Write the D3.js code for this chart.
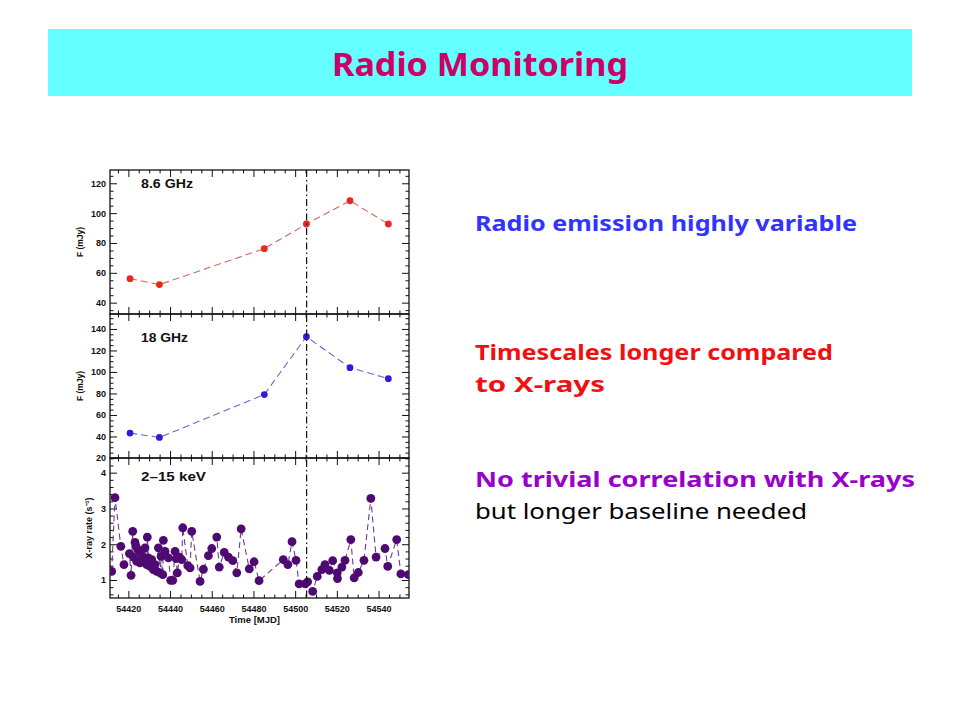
<!DOCTYPE html>
<html><head><meta charset="utf-8">
<script src="https://cdn.jsdelivr.net/npm/d3@7"></script>
<style>body{margin:0;background:#fff} svg{display:block}</style>
</head><body>
<svg id="c" width="960" height="720"></svg>
<script>
// ---- data ----
const radioDays = [54420.8, 54434.9, 54485.2, 54505.4, 54526.3, 54544.7];
const flux86    = [56.1, 52.1, 76.2, 92.7, 108.3, 92.7];
const flux18    = [43.2, 39.1, 79.0, 132.8, 104.0, 93.8];

const xrayDays = [54412.0,54413.6,54416.4,54417.9,54420.5,54421.3,54422.1,54422.4,54423.2,54423.7,
  54424.0,54424.8,54425.6,54426.4,54427.2,54428.0,54428.8,54429.1,54429.6,54430.4,
  54431.2,54432.0,54432.8,54433.6,54434.4,54435.2,54435.7,54436.5,54436.8,54437.6,
  54439.2,54440.3,54441.3,54442.4,54442.9,54443.5,54444.5,54445.6,54446.1,54448.5,
  54449.6,54450.4,54454.4,54456.0,54458.4,54460.0,54462.4,54463.6,54466.0,54468.0,
  54470.1,54472.0,54474.1,54478.0,54480.3,54482.7,54494.3,54496.5,54498.5,54500.4,
  54501.9,54504.8,54506.0,54508.4,54510.6,54512.8,54514.3,54516.4,54518.0,54520.2,
  54520.3,54522.4,54523.9,54526.7,54528.3,54530.3,54533.0,54536.3,54538.8,54543.1,
  54544.4,54548.7,54550.7,54554.3];
const xrayRate = [1.24,3.30,1.94,1.43,1.74,1.13,2.36,1.64,2.05,1.94,
  1.52,1.83,1.48,1.71,1.52,1.90,1.43,2.20,1.62,1.38,
  1.57,1.29,1.43,1.24,1.90,1.20,1.66,1.15,2.11,1.80,
  1.62,0.99,0.99,1.80,1.60,1.20,1.64,1.57,2.46,1.40,
  1.34,2.36,0.96,1.30,1.68,1.88,2.20,1.36,1.77,1.64,
  1.54,1.20,2.43,1.31,1.51,0.98,1.57,1.43,2.07,1.55,
  0.89,0.89,0.95,0.68,1.10,1.29,1.43,1.27,1.54,1.20,
  1.04,1.36,1.55,2.13,1.06,1.21,1.55,3.28,1.64,1.88,
  1.38,2.13,1.17,1.15];
const XRAY_ERR = 0.07;

const timeTicks = [54420, 54440, 54460, 54480, 54500, 54520, 54540];
const ticks86 = [40, 60, 80, 100, 120];
const ticks18 = [20, 40, 60, 80, 100, 120, 140];
const ticksXr = [1, 2, 3, 4];
const flareDay = 54505.5;

const title = "Radio Monitoring";
const bullets = [
  {lines:["Radio emission highly variable"], color:"#3333ff", bold:true, y:[231]},
  {lines:["Timescales longer compared","to X-rays"], color:"#ee1111", bold:true, y:[360,392]},
  {lines:["No trivial correlation with X-rays"], color:"#9900cc", bold:true, y:[487]},
  {lines:["but longer baseline needed"], color:"#000000", bold:false, y:[519]}
];
const bulletWidths = [[382],[358,130],[440],[332]];

// ---- layout ----
const svg = d3.select("#c");
const L = 110, R = 409;
const panels = [
  {top:170, bot:314, dom:[32.4,128.9], ticks:ticks86, minor:5, label:"8.6 GHz", lw:52, ly:188.3, ylab:"F (mJy)"},
  {top:314, bot:458, dom:[20,153.9], ticks:ticks18, minor:5, label:"18 GHz", lw:47, ly:341.7, ylab:"F (mJy)"},
  {top:458, bot:598, dom:[0.497,4.41], ticks:ticksXr, minor:0.2, label:"2\u201315 keV", lw:65, ly:480.7, ylab:"X-ray rate (s\u207B\u00B9)"}
];
const x = d3.scaleLinear().domain([54411.2, 54554.6]).range([L, R]);
const minorTime = d3.range(54415, 54555, 5);

// banner
svg.append("rect").attr("x",48).attr("y",29).attr("width",864).attr("height",67).attr("fill","#66ffff");
svg.append("text").attr("x",480).attr("y",76).attr("text-anchor","middle")
  .attr("font-family","'Comic Sans MS','Noto Sans',sans-serif").attr("font-weight","bold")
  .attr("font-size",32).attr("fill","#cc0066")
  .attr("textLength",296).attr("lengthAdjust","spacingAndGlyphs").text(title);

// right-hand text
bullets.forEach((b,i)=>{
  b.lines.forEach((ln,j)=>{
    svg.append("text").attr("x",475).attr("y",b.y[j])
      .attr("font-family","'Comic Sans MS','Noto Sans',sans-serif")
      .attr("font-weight", b.bold ? "bold" : "normal")
      .attr("font-size",22).attr("fill",b.color)
      .attr("textLength",bulletWidths[i][j]).attr("lengthAdjust","spacingAndGlyphs")
      .text(ln);
  });
});

const AF = "'Liberation Sans',Arial,Helvetica,sans-serif";

panels.forEach((p,pi)=>{
  const y = d3.scaleLinear().domain(p.dom).range([p.bot, p.top]);
  p.y = y;
  const g = svg.append("g");
  const step = pi===2 ? 1 : 20;
  const minorY = d3.range(Math.ceil(p.dom[0]/p.minor)*p.minor, p.dom[1], p.minor)
    .filter(v=>Math.abs(v - Math.round(v/step)*step)>1e-6);
  const ax = g.append("g").attr("transform",`translate(${L},0)`)
    .call(d3.axisLeft(y).tickValues(p.ticks).tickSize(-7).tickPadding(4).tickFormat(d3.format("d")));
  ax.selectAll("text").attr("font-family",AF).attr("font-weight","bold").attr("font-size",9).attr("fill","#111");
  g.append("g").attr("transform",`translate(${L},0)`)
    .call(d3.axisLeft(y).tickValues(minorY).tickSize(-3.5).tickFormat(""));
  g.append("g").attr("transform",`translate(${R},0)`)
    .call(d3.axisRight(y).tickValues(p.ticks).tickSize(-7).tickFormat(""));
  g.append("g").attr("transform",`translate(${R},0)`)
    .call(d3.axisRight(y).tickValues(minorY).tickSize(-3.5).tickFormat(""));
  g.append("g").attr("transform",`translate(0,${p.top})`)
    .call(d3.axisTop(x).tickValues(timeTicks).tickSize(-7).tickFormat(""));
  g.append("g").attr("transform",`translate(0,${p.top})`)
    .call(d3.axisTop(x).tickValues(minorTime.filter(v=>v%20!==0)).tickSize(-3.5).tickFormat(""));
  const bx = g.append("g").attr("transform",`translate(0,${p.bot})`)
    .call(d3.axisBottom(x).tickValues(timeTicks).tickSize(-7).tickPadding(8)
      .tickFormat(pi===2 ? d3.format("d") : ""));
  bx.selectAll("text").attr("font-family",AF).attr("font-weight","bold").attr("font-size",9).attr("fill","#111");
  g.append("g").attr("transform",`translate(0,${p.bot})`)
    .call(d3.axisBottom(x).tickValues(minorTime.filter(v=>v%20!==0)).tickSize(-3.5).tickFormat(""));
  g.selectAll(".domain").remove();
  g.selectAll(".tick line").attr("stroke","#111").attr("stroke-width",1);
  g.append("rect").attr("x",L).attr("y",p.top).attr("width",R-L).attr("height",p.bot-p.top)
    .attr("fill","none").attr("stroke","#111").attr("stroke-width",1.3);
  g.append("text").attr("x",141).attr("y",p.ly)
    .attr("font-family",AF).attr("font-weight","bold").attr("font-size",13).attr("fill","#111")
    .attr("textLength",p.lw).attr("lengthAdjust","spacingAndGlyphs").text(p.label);
  const cy = (p.top+p.bot)/2;
  const lx = pi===2 ? 92 : 83;
  g.append("text").attr("transform",`translate(${lx},${cy}) rotate(-90)`).attr("text-anchor","middle")
    .attr("font-family",AF).attr("font-weight","bold").attr("font-size",pi===2?9:8.5).attr("fill","#111").text(p.ylab);
});

svg.append("clipPath").attr("id","clip3").append("rect")
  .attr("x",L).attr("y",panels[2].top).attr("width",R-L).attr("height",panels[2].bot-panels[2].top);

function radio(vals, p, dot, line){
  const pts = radioDays.map((d,i)=>[x(d), p.y(vals[i])]);
  svg.append("path").attr("d", d3.line()(pts)).attr("fill","none")
    .attr("stroke",line).attr("stroke-width",1.1).attr("stroke-dasharray","7,4");
  svg.append("g").selectAll("circle").data(pts).join("circle")
    .attr("cx",d=>d[0]).attr("cy",d=>d[1]).attr("r",3.4).attr("fill",dot);
}
radio(flux86, panels[0], "#e8281c", "#d26a5e");
radio(flux18, panels[1], "#2a1ed8", "#6a66c8");

const p3 = panels[2];
const g3 = svg.append("g").attr("clip-path","url(#clip3)");
const xpts = xrayDays.map((d,i)=>[x(d), p3.y(xrayRate[i])]);
g3.append("path").attr("d", d3.line()(xpts)).attr("fill","none")
  .attr("stroke","#6b3d8c").attr("stroke-width",1.1).attr("stroke-dasharray","6,4");
g3.append("g").selectAll("line").data(xrayDays).join("line")
  .attr("x1",d=>x(d)).attr("x2",d=>x(d))
  .attr("y1",(d,i)=>p3.y(xrayRate[i]-XRAY_ERR)).attr("y2",(d,i)=>p3.y(xrayRate[i]+XRAY_ERR))
  .attr("stroke","#5a1a7e").attr("stroke-width",1);
g3.append("g").selectAll("circle").data(xpts).join("circle")
  .attr("cx",d=>d[0]).attr("cy",d=>d[1]).attr("r",4.4).attr("fill","#4e0a72");

svg.append("line").attr("x1",x(flareDay)).attr("x2",x(flareDay))
  .attr("y1",panels[0].top).attr("y2",panels[2].bot)
  .attr("stroke","#111").attr("stroke-width",1.2).attr("stroke-dasharray","7,3,1.5,3");

svg.append("text").attr("x",(L+R)/2-5).attr("y",623).attr("text-anchor","middle")
  .attr("font-family",AF).attr("font-weight","bold").attr("font-size",9.5).attr("fill","#111").text("Time [MJD]");
</script>
</body></html>
